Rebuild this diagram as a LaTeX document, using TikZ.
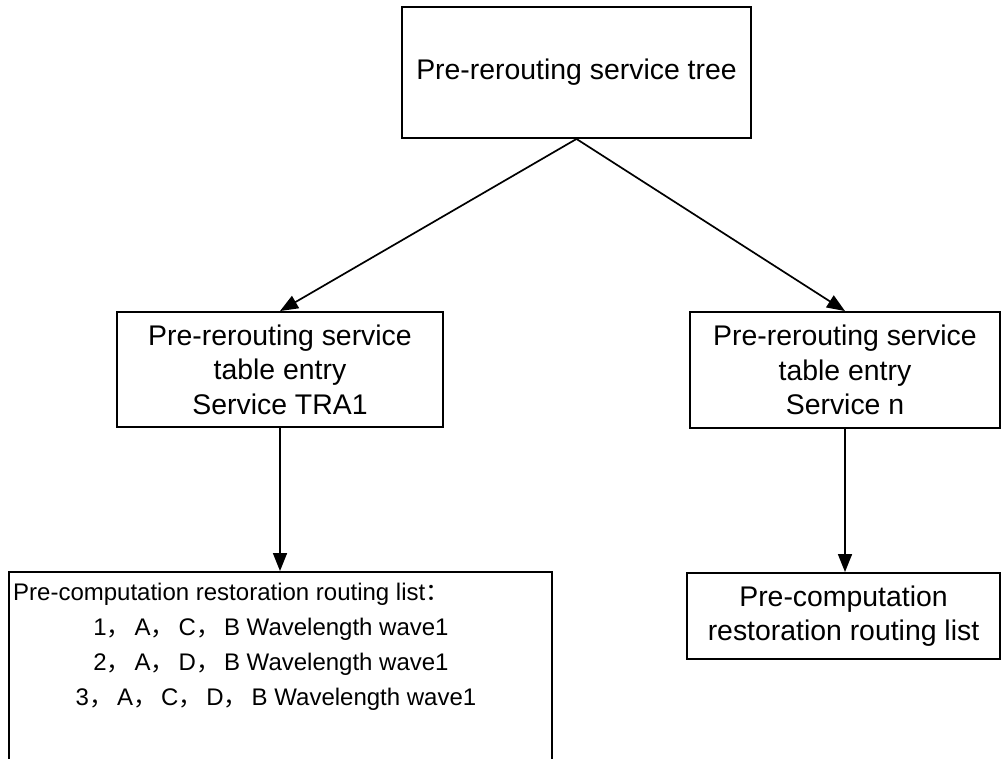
\documentclass[tikz,border=0pt]{standalone}
\usepackage{fontspec}
\setmainfont{Liberation Sans}
\newfontfamily\cjk{Noto Sans CJK SC}
\usetikzlibrary{arrows.meta}
\newcommand{\fwc}{{\cjk ，}\hspace{4pt}}
\begin{document}
\begin{tikzpicture}[x=1pt,y=-1pt,
  box/.style={draw=black, line width=1.9pt, inner sep=0pt, align=center,
    font=\fontsize{28.4}{34.5}\selectfont},
  arr/.style={line width=1.7pt, -{Triangle[length=18pt,width=14pt]}},
  small/.style={font=\fontsize{24}{35}\selectfont, inner sep=0pt}]
\useasboundingbox (0,0) rectangle (1002,759);
\clip (0,0) rectangle (1002,759);
\node[box, minimum width=349pt, minimum height=131pt] (top) at (576.5,72.5)
  {Pre-rerouting service tree};
\node[box, minimum width=326pt, minimum height=115pt] (ml) at (280,369.5)
  {Pre-rerouting service\\table entry\\Service TRA1};
\node[box, minimum width=310pt, minimum height=116pt] (mr) at (845,370)
  {Pre-rerouting service\\table entry\\Service n};
\node[box, minimum width=543pt, minimum height=218pt] (bl) at (280.5,681) {};
\node[box, minimum width=313pt, minimum height=86pt] (br) at (843.5,616)
  {Pre-computation\\restoration routing list};
\node[small, anchor=base west] (l1) at (13,600)
  {Pre-computation restoration routing list{\cjk ：}};
\node[small, anchor=base] (l2) at (271,635)
  {1\fwc A\fwc C\fwc B Wavelength wave1};
\node[small, anchor=base] (l3) at (271,670)
  {2\fwc A\fwc D\fwc B Wavelength wave1};
\node[small, anchor=base] (l4) at (276,705)
  {3\fwc A\fwc C\fwc D\fwc B Wavelength wave1};
\draw[arr] (top.south) -- (ml.north);
\draw[arr] (top.south) -- (mr.north);
\draw[arr] (ml.south) -- (ml.south |- bl.north);
\draw[arr] (mr.south) -- (mr.south |- br.north);
\end{tikzpicture}
\end{document}
